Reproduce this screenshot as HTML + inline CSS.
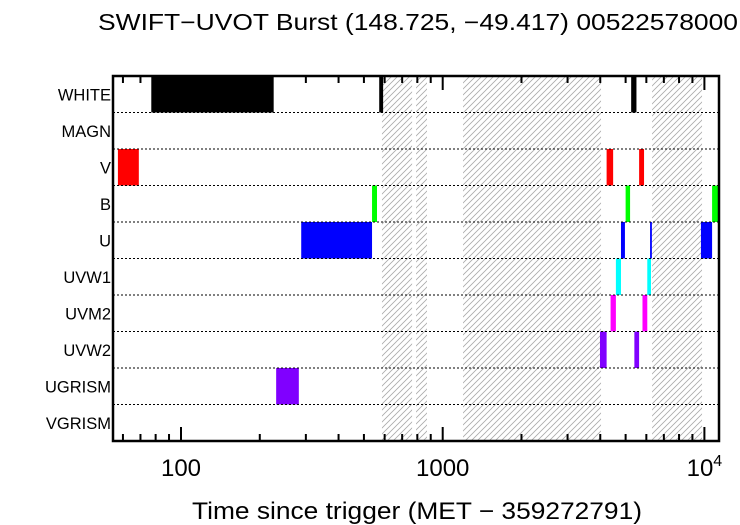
<!DOCTYPE html>
<html><head><meta charset="utf-8"><style>body{margin:0;background:#fff}svg{display:block;font-family:"Liberation Sans",sans-serif}</style></head>
<body>
<svg id="chart" width="740" height="525" viewBox="0 0 740 525" xmlns="http://www.w3.org/2000/svg">
<defs><pattern id="hatch" patternUnits="userSpaceOnUse" width="6" height="6"><path d="M0,6 L6,0 M-1.5,1.5 L1.5,-1.5 M4.5,7.5 L7.5,4.5" stroke="#aaa" stroke-width="0.8"/></pattern></defs>
<text x="418" y="30" font-size="23" text-anchor="middle" textLength="640" lengthAdjust="spacingAndGlyphs">SWIFT−UVOT Burst (148.725, −49.417) 00522578000</text>
<text x="417" y="519" font-size="24" text-anchor="middle" textLength="450" lengthAdjust="spacingAndGlyphs">Time since trigger (MET − 359272791)</text>
<g id="plot"></g>
</svg>
<script>
const filters = ["WHITE","MAGN","V","B","U","UVW1","UVM2","UVW2","UGRISM","VGRISM"];
const gaps = [[586,764],[791,871],[1196,4027],[6310,9795]];
const whiteBars = [[572,592],[5250,5500]];
const whiteBig = [[77,226]];
const vBars = [[57.4,69],[4230,4480],[5630,5880]];
const bBars = [[537,561],[5000,5200],[10700,11400]];
const uBars = [[288,537],[4800,4970],[6200,6300],[9700,10700]];
const uvw1Bars = [[4590,4800],[6050,6250]];
const uvm2Bars = [[4380,4590],[5800,6050]];
const uvw2Bars = [[3990,4230],[5400,5630]];
const ugrismBars = [[231,282]];
const rowBars = [whiteBig.concat(whiteBars),[],vBars,bBars,uBars,uvw1Bars,uvm2Bars,uvw2Bars,ugrismBars,[]];
const colors = ["#000","#000","#f00","#0f0","#00f","#0ff","#f0f","#8000ff","#8000ff","#000"];
const majorTicks = [100,1000,10000];
const minorTicks = [60,70,80,90,200,300,400,500,600,700,800,900,2000,3000,4000,5000,6000,7000,8000,9000];

const L=113,R=719,T=76,B=441;
const rowH=(B-T)/filters.length;
const x=v=>181+261.7*Math.log10(v/100);
const y=i=>T+i*rowH;
const NS="http://www.w3.org/2000/svg";
const g=document.getElementById('plot');
function mk(tag,attrs){const e=document.createElementNS(NS,tag);for(const k in attrs)e.setAttribute(k,attrs[k]);g.appendChild(e);return e;}
gaps.forEach(d=>{const e=mk('rect',{x:x(d[0]),y:T,width:x(d[1])-x(d[0]),height:B-T,fill:'url(#hatch)'});

});
rowBars.forEach((bars,i)=>{bars.forEach(d=>{const x0=Math.max(L,x(d[0])),x1=Math.min(R,x(d[1]));
const e=mk('rect',{x:x0,y:y(i),width:Math.max(1.5,x1-x0),height:rowH,fill:colors[i]});

});});
filters.forEach((f,i)=>{if(i>0){const e=mk('line',{x1:L,x2:R,y1:y(i),y2:y(i),stroke:'#000','stroke-dasharray':'2,2','stroke-width':1});

}
const t=mk('text',{x:111,y:y(i)+rowH/2+6,'font-size':16.5,'text-anchor':'end'});t.textContent=f;

});
minorTicks.forEach(v=>{[[B,B-7],[T,T+7]].forEach(p=>{const e=mk('line',{x1:x(v),x2:x(v),y1:p[0],y2:p[1],stroke:'#000','stroke-width':2});

});});
majorTicks.forEach((v,i)=>{[[B,B-14],[T,T+14]].forEach(p=>{const e=mk('line',{x1:x(v),x2:x(v),y1:p[0],y2:p[1],stroke:'#000','stroke-width':2});

});
const t=mk('text',{x:x(v),y:476,'font-size':24,'text-anchor':'middle'});
if(v===10000){t.innerHTML='10<tspan font-size="16" dy="-10">4</tspan>';}else t.textContent=String(v);

});
const fr=mk('rect',{x:L,y:T,width:R-L,height:B-T,fill:'none',stroke:'#000','stroke-width':2.5});


</script>
</body></html>
